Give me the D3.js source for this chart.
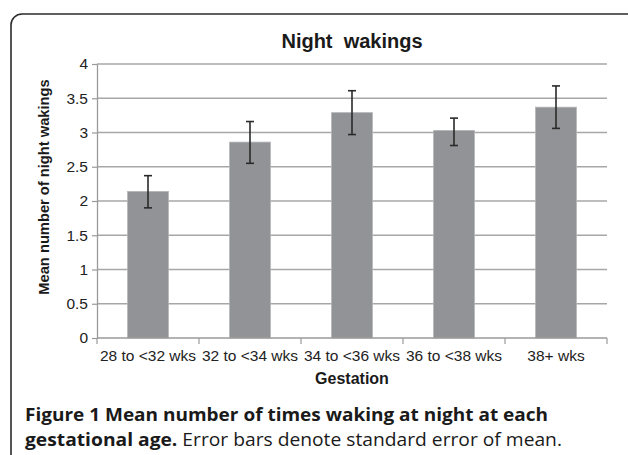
<!DOCTYPE html>
<html>
<head>
<meta charset="utf-8">
<script src="https://cdn.jsdelivr.net/npm/d3@7"></script>
<style>
  body { margin: 0; background: #fff; }
</style>
</head>
<body>
<div id="chart"></div>
<script>
// values
let categories = ["28 to <32 wks", "32 to <34 wks", "34 to <36 wks", "36 to <38 wks", "38+ wks"];
let means = [2.14, 2.86, 3.29, 3.03, 3.37];
let errLow = [1.90, 2.55, 2.97, 2.81, 3.06];
let errHigh = [2.37, 3.16, 3.61, 3.21, 3.68];
let yTicks = [0, 0.5, 1, 1.5, 2, 2.5, 3, 3.5, 4];

let sans = "'Liberation Sans', Arial, sans-serif";
let svg = d3.select("#chart").append("svg").attr("width", 628).attr("height", 455);

// rounded frame, running off the right and bottom edges
svg.append("rect").attr("x", 11).attr("y", 14).attr("width", 640).attr("height", 470)
  .attr("rx", 11).attr("fill", "none").attr("stroke", "#2b2b2b").attr("stroke-width", 1.6);

let plotL = 97, plotR = 607, plotT = 64, plotB = 338;
let x = d3.scaleBand().domain(categories).range([plotL, plotR]).paddingInner(0).paddingOuter(0);
let y = d3.scaleLinear().domain([0, 4]).range([plotB, plotT]);

let plot = svg.append("g");

// gridlines
plot.selectAll(".grid").data(yTicks.filter(d => d > 0)).enter().append("line")
  .attr("x1", plotL).attr("x2", plotR)
  .attr("y1", d => y(d)).attr("y2", d => y(d))
  .attr("stroke", "#a7a7a7").attr("stroke-width", 1.4);

// bars
let bw = x.bandwidth() * 0.4;
plot.selectAll(".bar").data(categories).enter().append("rect")
  .attr("x", d => x(d) + (x.bandwidth() - bw) / 2)
  .attr("y", (d, i) => y(means[i]))
  .attr("width", bw)
  .attr("height", (d, i) => y(0) - y(means[i]))
  .attr("fill", "#929396").attr("stroke", "#b4b5b7").attr("stroke-width", 0.8);

// y axis
let yAxis = d3.axisLeft(y).tickValues(yTicks).tickSize(5).tickSizeOuter(0)
  .tickFormat(d => d3.format("")(d));
let ya = svg.append("g").attr("transform", "translate(" + plotL + ",0)").call(yAxis);
ya.select(".domain").attr("stroke", "#9a9a9a").attr("stroke-width", 1.3);
ya.selectAll(".tick line").attr("stroke", "#9a9a9a").attr("stroke-width", 1.2);
ya.selectAll(".tick text").attr("x", -9).attr("fill", "#222")
  .style("font-family", sans).style("font-size", "15.5px");

// x axis, ticks on band boundaries
let xa = svg.append("g").attr("transform", "translate(0," + plotB + ")");
xa.append("line").attr("x1", plotL).attr("x2", plotR).attr("stroke", "#9a9a9a").attr("stroke-width", 1.3);
let bounds = categories.map(d => x(d)).concat([plotR]);
xa.selectAll(".xt").data(bounds).enter().append("line")
  .attr("x1", d => d).attr("x2", d => d).attr("y1", 0).attr("y2", 6)
  .attr("stroke", "#9a9a9a").attr("stroke-width", 1.2);
xa.selectAll(".xl").data(categories).enter().append("text")
  .attr("x", d => x(d) + x.bandwidth() / 2).attr("y", 23)
  .attr("text-anchor", "middle").attr("fill", "#222")
  .style("font-family", sans).style("font-size", "15.5px")
  .text(d => d);

// error bars
let eb = plot.selectAll(".err").data(categories).enter().append("g");
eb.append("line")
  .attr("x1", d => x(d) + x.bandwidth() / 2).attr("x2", d => x(d) + x.bandwidth() / 2)
  .attr("y1", (d, i) => y(errLow[i])).attr("y2", (d, i) => y(errHigh[i]));
eb.append("line")
  .attr("x1", d => x(d) + x.bandwidth() / 2 - 4).attr("x2", d => x(d) + x.bandwidth() / 2 + 4)
  .attr("y1", (d, i) => y(errLow[i])).attr("y2", (d, i) => y(errLow[i]));
eb.append("line")
  .attr("x1", d => x(d) + x.bandwidth() / 2 - 4).attr("x2", d => x(d) + x.bandwidth() / 2 + 4)
  .attr("y1", (d, i) => y(errHigh[i])).attr("y2", (d, i) => y(errHigh[i]));
eb.selectAll("line").attr("stroke", "#2a2a2a").attr("stroke-width", 1.6);

// titles
svg.append("text").attr("x", (plotL + plotR) / 2).attr("y", 48).attr("text-anchor", "middle")
  .style("font-family", sans).style("font-size", "20px")
  .style("font-weight", "bold").style("white-space", "pre").attr("fill", "#1a1a1a")
  .text("Night  wakings");

svg.append("text").attr("transform", "translate(49,187) rotate(-90)").attr("text-anchor", "middle")
  .style("font-family", sans).style("font-size", "14.7px")
  .style("font-weight", "bold").attr("fill", "#1a1a1a")
  .text("Mean number of night wakings");

svg.append("text").attr("x", (plotL + plotR) / 2).attr("y", 384).attr("text-anchor", "middle")
  .style("font-family", sans).style("font-size", "16px")
  .style("font-weight", "bold").attr("fill", "#1a1a1a")
  .text("Gestation");

// figure caption
let cap = svg.append("g").style("font-family", "'Open Sans', sans-serif").style("font-size", "18px").attr("fill", "#1a1a1a");
cap.append("text").attr("x", 25).attr("y", 421).style("font-weight", "bold")
  .attr("textLength", 523).attr("lengthAdjust", "spacingAndGlyphs")
  .text("Figure 1 Mean number of times waking at night at each");
let l2 = cap.append("text").attr("x", 25).attr("y", 446)
  .attr("textLength", 537).attr("lengthAdjust", "spacingAndGlyphs");
l2.append("tspan").style("font-weight", "bold").text("gestational age.");
l2.append("tspan").text(" Error bars denote standard error of mean.");
</script>
</body>
</html>
